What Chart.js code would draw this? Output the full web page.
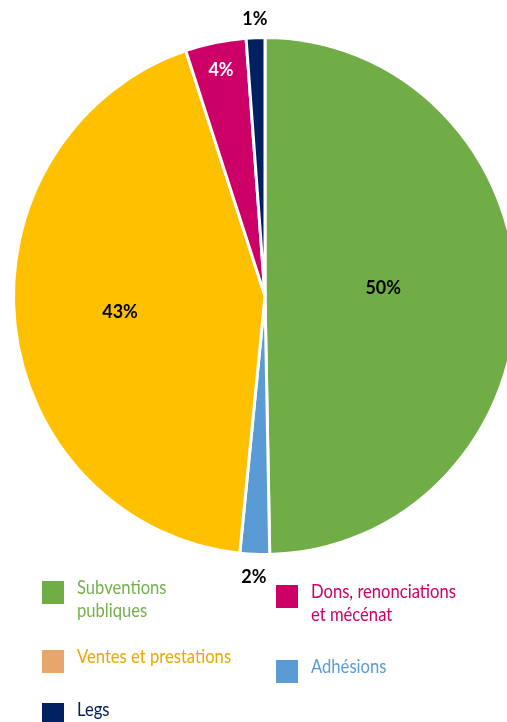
<!DOCTYPE html>
<html>
<head>
<meta charset="utf-8">
<script src="https://cdn.jsdelivr.net/npm/chart.js@4.4.1/dist/chart.umd.min.js"></script>
<style>
  html, body { margin: 0; padding: 0; background: #fff; }
  #wrap { width: 507px; height: 722px; }
</style>
</head>
<body>
<div id="wrap"><canvas id="pieChart" width="507" height="722"></canvas></div>
<script>
// slices, clockwise from 12 o'clock
const CATEGORIES = [
    ['Subventions', 'publiques'],
    ['Adhésions'],
    ['Ventes et prestations'],
    ['Dons, renonciations', 'et mécénat'],
    ['Legs']
];
const SHARES = [49.7, 1.9, 43.3, 3.9, 1.2];
const SLICE_COLORS = ['#70AD47', '#5B9BD5', '#FFC000', '#CC0066', '#002060'];

// legend swatch / text colours (Ventes swatch differs from its slice)
const LEGEND_SWATCH = ['#70AD47', '#5B9BD5', '#E7A76B', '#CC0066', '#002060'];
const LEGEND_TEXT = ['#73B04A', '#5B9BD5', '#E8A800', '#CC0066', '#002060'];

// label look
const LABEL_COLORS = ['#000', '#000', '#000', '#fff', '#000'];
const LABEL_RADIUS = [0.47, 1.09, 0.58, 0.89, 1.07];

const STRETCH = 1.028;  // pie is a bit taller than wide
const NARROW = 0.83;    // legend font is a condensed face

const pieStretch = {
    id: 'pieStretch',
    beforeDatasetsDraw(chart) {
        const arc = chart.getDatasetMeta(0).data[0];
        const ctx = chart.ctx;
        ctx.save();
        ctx.translate(0, arc.y);
        ctx.scale(1, STRETCH);
        ctx.translate(0, -arc.y);
    },
    afterDatasetsDraw(chart) {
        chart.ctx.restore();
    }
};

const pieLabels = {
    id: 'pieLabels',
    afterDraw(chart) {
        const ctx = chart.ctx;
        const data = chart.data.datasets[0].data;
        ctx.save();
        ctx.font = 'bold 18px Lato, sans-serif';
        ctx.textAlign = 'center';
        ctx.textBaseline = 'middle';
        chart.getDatasetMeta(0).data.forEach(function (arc, i) {
            const p = arc.getProps(['x', 'y', 'startAngle', 'endAngle', 'outerRadius'], true);
            const mid = (p.startAngle + p.endAngle) / 2;
            const r = p.outerRadius * LABEL_RADIUS[i];
            let ly = p.y + Math.sin(mid) * r * STRETCH;
            if (i === 0) ly -= 7;
            ctx.fillStyle = LABEL_COLORS[i];
            ctx.fillText(Math.round(data[i]) + '%', p.x + Math.cos(mid) * r, ly);
        });
        ctx.restore();
    }
};

// legend: two columns, entries drawn by index into CATEGORIES
const LEGEND_COLUMNS = [
    { x: 42, items: [[0, 581], [2, 650], [4, 703]] },
    { x: 276, items: [[3, 585], [1, 660]] }
];

const pieLegend = {
    id: 'pieLegend',
    afterDraw(chart) {
        const ctx = chart.ctx;
        ctx.save();
        ctx.font = '20px Lato, sans-serif';
        ctx.textAlign = 'left';
        ctx.textBaseline = 'middle';
        LEGEND_COLUMNS.forEach(function (col) {
            col.items.forEach(function (item) {
                const i = item[0], top = item[1];
                ctx.fillStyle = LEGEND_SWATCH[i];
                ctx.fillRect(col.x, top, 22, 23);
                ctx.fillStyle = LEGEND_TEXT[i];
                CATEGORIES[i].forEach(function (line, k) {
                    ctx.save();
                    ctx.translate(col.x + 35, top + 7 + k * 23);
                    ctx.scale(NARROW, 1);
                    ctx.fillText(line, 0, 0);
                    ctx.restore();
                });
            });
        });
        ctx.restore();
    }
};

const ctxPie = document.getElementById('pieChart');

new Chart(ctxPie, {
    type: 'pie',
    data: {
        labels: CATEGORIES,
        datasets: [{
            data: SHARES,
            backgroundColor: SLICE_COLORS,
            borderColor: '#fff',
            borderWidth: 3
        }]
    },
    options: {
        responsive: false,
        animation: false,
        radius: 251.5,
        layout: { padding: { left: 23, right: 0, top: 0, bottom: 130 } },
        plugins: {
            legend: { display: false },
            tooltip: { enabled: false }
        }
    },
    plugins: [pieStretch, pieLabels, pieLegend]
});
</script>
</body>
</html>
